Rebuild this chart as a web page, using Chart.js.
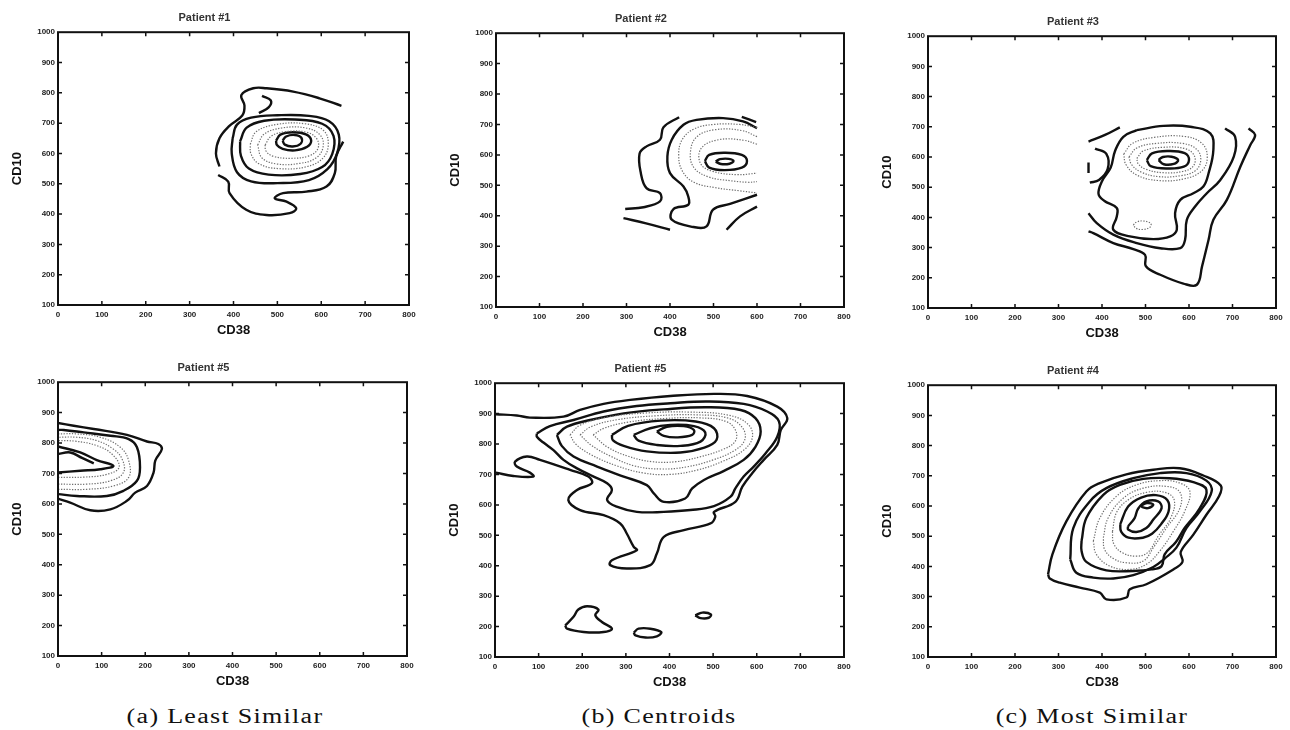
<!DOCTYPE html>
<html lang="en">
<head>
<meta charset="UTF-8">
<title>CD38 / CD10 density contours</title>
<script src="https://cdn.jsdelivr.net/npm/chart.js"></script>
<style>
  body { margin: 0; background: #fff; }
  #page { position: relative; width: 1290px; height: 730px; overflow: hidden; }
  canvas { position: absolute; }
  .caption {
    position: absolute; top: 706px; line-height: 20px;
    font-family: "Liberation Serif", "DejaVu Serif", serif; font-size: 20px;
    letter-spacing: 1px; color: #111; white-space: nowrap;
    transform: translateX(-50%) scaleX(1.3);
  }
</style>
</head>
<body>
<div id="page">
  <canvas id="p1" width="421" height="340" style="left:0px;top:0px"></canvas>
  <canvas id="p2" width="418" height="341" style="left:438px;top:1px"></canvas>
  <canvas id="p3" width="418" height="339" style="left:870px;top:4px"></canvas>
  <canvas id="p4" width="419" height="341" style="left:0px;top:350px"></canvas>
  <canvas id="p5" width="419" height="341" style="left:437px;top:351px"></canvas>
  <canvas id="p6" width="418" height="339" style="left:870px;top:353px"></canvas>
  <div class="caption" style="left:225px">(a) Least Similar</div>
  <div class="caption" style="left:659px">(b) Centroids</div>
  <div class="caption" style="left:1092px">(c) Most Similar</div>
</div>

<script>
// axis ticks (same on every panel)
const X_TICKS = [0, 100, 200, 300, 400, 500, 600, 700, 800];
const Y_TICKS = [100, 200, 300, 400, 500, 600, 700, 800, 900, 1000];

// contour lines, flat [x, y, x, y, ...] in CD38 / CD10 units
// "levels" = outer and innermost density levels, "mid" = the faint middle levels

// Patient #1
const P1_LEVELS = [
  [646,757, 596,782, 536,804, 475,815, 445,815, 418,793, 425,758, 420,725, 390,690, 368,650, 360,600, 368,557],
  [365,529, 388,507, 391,469, 429,414, 475,397, 528,403, 543,419, 521,441, 494,452, 513,469, 566,474, 612,491, 631,535, 634,590, 650,639],
  [465,790, 485,775, 480,752, 458,733],
  [398,650, 408,695, 440,718, 500,726, 572,724, 618,706, 640,662, 636,600, 614,548, 572,512, 500,502, 440,508, 408,538, 396,600, 398,650],
  [415,640, 430,685, 470,708, 540,712, 602,698, 628,658, 625,598, 602,555, 552,532, 480,530, 435,550, 417,592, 415,640],
  [497,642, 507,662, 535,670, 565,663, 577,643, 568,622, 540,610, 512,615, 499,628, 497,642],
  [512,642, 520,656, 540,661, 555,651, 553,632, 535,623, 517,629, 512,642]
];
const P1_MID = [
  [438,630, 452,672, 500,696, 562,698, 605,676, 616,630, 604,585, 566,556, 503,550, 458,566, 440,598, 438,630],
  [455,628, 470,664, 510,684, 565,684, 598,660, 604,620, 588,585, 550,567, 500,565, 465,585, 455,628],
  [472,628, 486,657, 520,672, 566,670, 590,648, 592,615, 572,592, 530,584, 490,591, 474,608, 472,628]
];

// Patient #2
const P2_LEVELS = [
  [421,724, 385,691, 377,650, 346,628, 330,604, 333,540, 346,491, 377,474, 377,447, 339,428, 297,422],
  [293,392, 345,375, 400,354],
  [600,688, 568,710, 522,721, 461,715, 431,699, 404,650, 394,595, 400,540, 431,496, 442,463, 442,436, 408,422, 404,387, 454,363, 484,365, 499,420, 538,439, 600,469],
  [565,725, 598,708],
  [530,354, 561,398, 600,430],
  [480,580, 490,600, 525,607, 565,600, 577,580, 565,558, 525,550, 490,558, 480,580],
  [505,578, 515,586, 535,587, 546,580, 537,571, 517,570, 505,578]
];
const P2_MID = [
  [600,690, 560,700, 500,700, 455,685, 428,650, 420,600, 428,548, 455,510, 505,492, 560,482, 600,475],
  [600,660, 565,680, 505,683, 462,660, 447,610, 455,558, 490,527, 540,515, 580,510, 600,512],
  [600,635, 570,648, 512,650, 472,622, 470,572, 498,546, 555,535, 600,540]
];

// Patient #3
const P3_LEVELS = [
  [737,695, 752,673, 741,640, 718,568, 687,458, 656,392, 645,326, 630,238, 618,177, 587,181, 534,210, 501,238, 499,276, 472,295, 426,315, 380,348, 369,354],
  [683,695, 706,667, 703,601, 672,524, 641,480, 614,436, 595,392, 591,326, 580,298, 534,298, 480,315, 426,343, 388,381, 369,414],
  [369,651, 407,673, 441,698],
  [384,628, 410,610, 413,560, 393,524, 372,515],
  [480,689, 541,703, 603,700, 649,678, 656,623, 645,546, 633,502, 610,480, 580,458, 568,414, 572,359, 557,337, 518,328, 464,337, 426,359, 434,403, 434,431, 405,455, 392,478, 400,520, 420,565, 430,620, 449,667, 480,689],
  [369,582, 369,547],
  [503,590, 515,612, 550,620, 590,613, 600,590, 588,568, 550,562, 512,570, 503,590],
  [530,590, 540,600, 560,601, 575,590, 565,577, 542,576, 530,590]
];
const P3_MID = [
  [450,610, 470,645, 520,665, 590,668, 630,645, 642,600, 630,555, 590,528, 530,522, 480,540, 455,575, 450,610],
  [462,600, 480,630, 525,645, 585,645, 618,625, 627,590, 615,555, 580,538, 530,535, 490,550, 468,575, 462,600],
  [480,595, 495,620, 540,632, 590,628, 612,605, 610,570, 585,552, 540,548, 500,560, 483,578, 480,595],
  [472,375, 480,385, 495,388, 512,380, 510,367, 493,360, 478,364, 472,375]
];

// Patient #5 (least similar)
const P4_LEVELS = [
  [0,617, 28,604, 74,579, 120,582, 158,610, 177,637, 204,659, 219,703, 223,742, 238,780, 230,797, 204,805, 158,827, 82,846, 36,857, 0,866],
  [0,632, 43,626, 112,626, 150,643, 181,676, 188,720, 181,786, 162,813, 120,824, 59,835, 13,843, 0,843],
  [0,789, 51,769, 89,744, 127,725, 97,714, 51,709, 0,703],
  [0,764, 28,769, 55,751, 82,733]
];
const P4_MID = [
  [0,648, 66,648, 127,659, 162,687, 162,742, 143,786, 97,819, 43,830, 0,830],
  [0,665, 66,665, 120,676, 150,703, 147,747, 127,780, 89,808, 43,819, 0,819],
  [0,687, 60,688, 112,697, 140,720, 125,762, 88,792, 40,806, 0,808]
];

// Patient #5 (centroid)
const P5_LEVELS = [
  [2,898, 50,894, 80,887, 157,890, 195,912, 249,932, 310,945, 402,958, 502,965, 578,958, 647,923, 670,885, 655,846, 647,797, 616,748, 590,705, 567,660, 551,610, 502,577, 505,561, 494,539, 433,517, 387,495, 371,440, 356,402, 302,391, 264,402, 268,418, 325,451, 318,462, 302,506, 287,539, 249,566, 195,583, 168,616, 188,649, 222,671, 214,693, 172,715, 103,748, 73,759, 46,742, 50,726, 80,706, 88,693, 42,695, 2,706],
  [96,835, 126,859, 180,879, 249,907, 325,925, 402,934, 486,940, 570,932, 624,907, 651,874, 647,824, 620,769, 593,726, 570,693, 551,654, 540,627, 502,596, 448,583, 387,577, 325,577, 279,594, 257,616, 268,649, 257,671, 226,693, 188,720, 157,748, 134,780, 111,805, 96,824, 96,835],
  [142,830, 165,857, 218,879, 295,901, 387,914, 486,921, 563,912, 597,885, 609,841, 597,791, 570,748, 525,712, 479,682, 452,654, 436,621, 387,610, 364,638, 348,665, 295,693, 234,726, 180,759, 153,794, 142,830],
  [268,830, 305,860, 380,877, 460,874, 502,852, 508,814, 480,788, 425,772, 348,776, 295,794, 270,813, 268,830],
  [318,830, 356,852, 402,863, 456,859, 482,838, 471,808, 425,794, 371,797, 329,811, 318,830],
  [371,841, 394,857, 433,859, 456,846, 452,830, 418,822, 387,827, 371,841],
  [161,204, 180,232, 191,256, 211,267, 237,256, 230,237, 245,215, 268,193, 249,182, 203,182, 165,193, 161,204],
  [318,180, 329,193, 356,193, 381,182, 371,168, 345,164, 322,171, 318,180],
  [459,237, 475,246, 495,240, 490,229, 471,228, 459,237]
];
const P5_MID = [
  [172,830, 195,862, 255,888, 345,902, 445,905, 535,895, 580,865, 590,822, 570,780, 525,745, 465,715, 400,700, 340,705, 280,728, 220,765, 185,800, 172,830],
  [195,830, 220,857, 280,880, 370,893, 460,896, 535,885, 568,852, 572,812, 548,778, 500,748, 440,725, 380,718, 320,728, 265,760, 222,795, 195,830],
  [225,830, 250,852, 305,872, 390,884, 470,886, 530,874, 552,843, 550,808, 522,782, 470,758, 415,742, 360,742, 305,760, 258,790, 225,830]
];

// Patient #4
const P6_LEVELS = [
  [276,374, 286,440, 318,549, 364,648, 395,676, 456,705, 518,720, 579,725, 633,701, 673,668, 669,632, 640,571, 610,505, 581,448, 585,415, 564,390, 502,341, 464,324, 456,297, 410,291, 395,313, 349,330, 303,346, 280,360, 276,374],
  [327,423, 334,527, 372,615, 410,659, 472,692, 533,709, 594,709, 640,684, 652,648, 625,582, 594,527, 571,462, 544,426, 518,398, 472,371, 426,360, 380,363, 341,379, 327,423],
  [353,484, 364,560, 403,637, 441,670, 495,690, 556,692, 610,679, 640,654, 625,593, 590,527, 570,481, 544,440, 537,401, 514,390, 472,385, 410,387, 364,415, 353,451, 353,484],
  [442,540, 460,598, 490,628, 524,636, 550,620, 553,582, 536,540, 515,508, 494,495, 461,495, 444,515, 442,540],
  [460,533, 475,560, 483,591, 502,615, 529,615, 537,593, 518,555, 502,527, 479,514, 460,522, 460,533],
  [491,602, 504,610, 518,604, 506,593, 493,596, 491,602]
];
const P6_MID = [
  [380,484, 395,560, 433,632, 479,670, 533,684, 579,676, 602,648, 590,582, 564,516, 533,451, 502,407, 464,390, 418,401, 387,440, 380,484],
  [403,495, 414,560, 449,626, 495,659, 548,665, 579,646, 579,593, 548,527, 518,462, 495,418, 456,412, 426,426, 406,456, 403,495],
  [424,516, 434,580, 462,622, 502,645, 545,645, 566,620, 558,560, 530,502, 505,446, 479,434, 447,445, 427,475, 424,516]
];

const PANELS = [
  { id: 'p1', title: 'Patient #1', levels: P1_LEVELS, mid: P1_MID },
  { id: 'p2', title: 'Patient #2', levels: P2_LEVELS, mid: P2_MID },
  { id: 'p3', title: 'Patient #3', levels: P3_LEVELS, mid: P3_MID },
  { id: 'p4', title: 'Patient #5', levels: P4_LEVELS, mid: P4_MID },
  { id: 'p5', title: 'Patient #5', levels: P5_LEVELS, mid: P5_MID },
  { id: 'p6', title: 'Patient #4', levels: P6_LEVELS, mid: P6_MID }
];

function toPoints(flat) {
  const pts = [];
  for (let i = 0; i < flat.length; i += 2) pts.push({ x: flat[i], y: flat[i + 1] });
  return pts;
}

// box round the plot with small inward ticks on all four sides, matlab style
const framePlugin = {
  id: 'frame',
  afterDatasetsDraw(chart) {
    const { ctx, chartArea: a, scales: { x, y } } = chart;
    ctx.save();
    ctx.strokeStyle = '#111';
    ctx.lineWidth = 2;
    ctx.strokeRect(a.left, a.top, a.right - a.left, a.bottom - a.top);
    ctx.lineWidth = 1.5;
    ctx.beginPath();
    X_TICKS.slice(1, -1).forEach(v => {
      const px = x.getPixelForValue(v);
      ctx.moveTo(px, a.bottom); ctx.lineTo(px, a.bottom - 4);
      ctx.moveTo(px, a.top); ctx.lineTo(px, a.top + 4);
    });
    Y_TICKS.slice(1, -1).forEach(v => {
      const py = y.getPixelForValue(v);
      ctx.moveTo(a.left, py); ctx.lineTo(a.left + 4, py);
      ctx.moveTo(a.right, py); ctx.lineTo(a.right - 4, py);
    });
    ctx.stroke();
    ctx.restore();
  }
};

const tickFont = { family: 'Liberation Sans', size: 8, weight: 'bold' };
const axisFont = { family: 'Liberation Sans', size: 13, weight: 'bold' };

PANELS.forEach(p => {
  const datasets = [];
  p.mid.forEach(c => datasets.push({
    data: toPoints(c), showLine: true, pointRadius: 0, tension: 0.4,
    borderColor: '#6e6e6e', borderWidth: 1.2, borderDash: [1.3, 1.5]
  }));
  p.levels.forEach(c => datasets.push({
    data: toPoints(c), showLine: true, pointRadius: 0, tension: 0.4,
    borderColor: '#111', borderWidth: 2.4
  }));

  new Chart(document.getElementById(p.id), {
    type: 'scatter',
    data: { datasets },
    options: {
      responsive: false,
      animation: false,
      layout: { padding: { left: 0, right: 12, top: 0, bottom: 0 } },
      plugins: {
        legend: { display: false },
        tooltip: { enabled: false },
        title: {
          display: true, text: p.title, color: '#333',
          font: { family: 'Liberation Sans', size: 11 },
          padding: { top: 11, bottom: 8 }
        }
      },
      scales: {
        x: {
          type: 'linear', min: 0, max: 800,
          afterBuildTicks: s => { s.ticks = X_TICKS.map(v => ({ value: v })); },
          afterFit: s => { s.height = 35; },
          grid: { display: false, drawTicks: false },
          border: { display: false },
          ticks: { font: tickFont, color: '#222', padding: 5, autoSkip: false, maxRotation: 0, callback: v => String(v) },
          title: { display: true, text: 'CD38', color: '#111', font: axisFont, padding: { top: 0, bottom: 2 } }
        },
        y: {
          type: 'linear', min: 100, max: 1000,
          afterBuildTicks: s => { s.ticks = Y_TICKS.map(v => ({ value: v })); },
          afterFit: s => { s.width = 58; },
          grid: { display: false, drawTicks: false },
          border: { display: false },
          ticks: { font: tickFont, color: '#222', padding: 3, autoSkip: false, callback: v => String(v) },
          title: { display: true, text: 'CD10', color: '#111', font: axisFont, padding: { top: 10, bottom: 0 } }
        }
      }
    },
    plugins: [framePlugin]
  });
});
</script>
</body>
</html>
